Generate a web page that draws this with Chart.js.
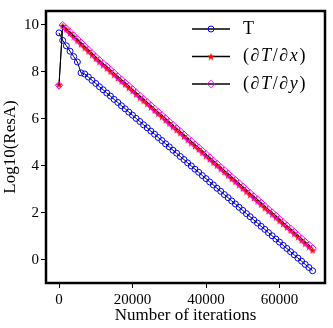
<!DOCTYPE html>
<html>
<head>
<meta charset="utf-8">
<script src="https://cdn.jsdelivr.net/npm/chart.js@4/dist/chart.umd.min.js"></script>
<style>
  html, body { margin: 0; padding: 0; background: #fff; }
  canvas { display: block; }
</style>
</head>
<body>
<canvas id="resChart" width="333" height="328"></canvas>
<script>
// iteration count of each stored residual
const iterations = [
  0, 1000, 2000, 3000, 4000, 5000, 6000, 7000, 8000, 9000,
  10000, 11000, 12000, 13000, 14000, 15000, 16000, 17000, 18000, 19000,
  20000, 21000, 22000, 23000, 24000, 25000, 26000, 27000, 28000, 29000,
  30000, 31000, 32000, 33000, 34000, 35000, 36000, 37000, 38000, 39000,
  40000, 41000, 42000, 43000, 44000, 45000, 46000, 47000, 48000, 49000,
  50000, 51000, 52000, 53000, 54000, 55000, 56000, 57000, 58000, 59000,
  60000, 61000, 62000, 63000, 64000, 65000, 66000, 67000, 68000, 69000
];

// log10 of the residuals
const resT = [
  9.65, 9.33, 9.10, 8.87, 8.64, 8.41, 7.95, 7.90, 7.77, 7.63,
  7.50, 7.36, 7.23, 7.09, 6.96, 6.82, 6.69, 6.55, 6.42, 6.28,
  6.15, 6.01, 5.88, 5.74, 5.61, 5.47, 5.34, 5.20, 5.07, 4.93,
  4.80, 4.66, 4.53, 4.39, 4.26, 4.12, 3.99, 3.85, 3.72, 3.58,
  3.45, 3.31, 3.18, 3.04, 2.91, 2.77, 2.64, 2.50, 2.37, 2.23,
  2.10, 1.96, 1.83, 1.69, 1.56, 1.42, 1.29, 1.15, 1.02, 0.88,
  0.75, 0.61, 0.48, 0.34, 0.21, 0.07, -0.06, -0.20, -0.33, -0.47
];
const resDTdx = [
  7.45, 9.95, 9.80, 9.64, 9.49, 9.32, 9.17, 9.02, 8.87, 8.72,
  8.56, 8.42, 8.28, 8.15, 8.01, 7.87, 7.73, 7.59, 7.46, 7.32,
  7.18, 7.04, 6.90, 6.77, 6.63, 6.49, 6.35, 6.21, 6.08, 5.94,
  5.80, 5.66, 5.52, 5.39, 5.25, 5.11, 4.97, 4.83, 4.70, 4.56,
  4.42, 4.28, 4.14, 4.01, 3.87, 3.73, 3.59, 3.45, 3.32, 3.18,
  3.04, 2.90, 2.76, 2.63, 2.49, 2.35, 2.21, 2.07, 1.94, 1.80,
  1.66, 1.52, 1.38, 1.25, 1.11, 0.97, 0.83, 0.69, 0.55, 0.40
];
const resDTdy = [
  7.42, 9.98, 9.83, 9.68, 9.53, 9.38, 9.23, 9.08, 8.93, 8.78,
  8.63, 8.49, 8.35, 8.22, 8.08, 7.94, 7.80, 7.66, 7.53, 7.39,
  7.25, 7.11, 6.97, 6.84, 6.70, 6.56, 6.42, 6.28, 6.15, 6.01,
  5.87, 5.73, 5.59, 5.46, 5.32, 5.18, 5.04, 4.90, 4.77, 4.63,
  4.49, 4.35, 4.21, 4.08, 3.94, 3.80, 3.66, 3.52, 3.39, 3.25,
  3.11, 2.97, 2.83, 2.70, 2.56, 2.42, 2.28, 2.14, 2.01, 1.87,
  1.73, 1.59, 1.45, 1.32, 1.18, 1.04, 0.90, 0.76, 0.63, 0.49
];

const seriesLabels = ['T', '(∂T/∂x)', '(∂T/∂y)'];
const xTickValues = [0, 20000, 40000, 60000];
const yTickValues = [0, 2, 4, 6, 8, 10];
const xTitle = 'Number of iterations';
const yTitle = 'Log10(ResA)';

const SERIF = '"Liberation Serif", "DejaVu Serif", serif';

// filled five point star, like matplotlib's '*' marker
function makeStar(size, color) {
  const c = document.createElement('canvas');
  c.width = size;
  c.height = size;
  const g = c.getContext('2d');
  const cx = size / 2, cy = size / 2 + 0.4;
  const R = size / 2, r = R * 0.42;
  g.beginPath();
  for (let i = 0; i < 10; i++) {
    const a = -Math.PI / 2 + i * Math.PI / 5;
    const rr = i % 2 === 0 ? R : r;
    g.lineTo(cx + rr * Math.cos(a), cy + rr * Math.sin(a));
  }
  g.closePath();
  g.fillStyle = color;
  g.fill();
  return c;
}
const starImg = makeStar(8, '#ff0000');

const toPoints = vals => iterations.map((it, i) => ({ x: it, y: vals[i] }));

// frame round the plot plus the legend (frameless, top right, with LaTeX-ish labels)
const framePlugin = {
  id: 'framePlugin',
  afterDatasetsDraw(chart) {
    const { ctx, chartArea: a } = chart;
    ctx.save();
    ctx.strokeStyle = '#000';
    ctx.lineWidth = 2.5;
    ctx.strokeRect(a.left, a.top, a.right - a.left, a.bottom - a.top);
    ctx.restore();
  },
  afterDraw(chart) {
    const ctx = chart.ctx;
    const rows = [29, 56.5, 84];
    const x0 = 192, x1 = 230, xm = 211, tx = 243;
    ctx.save();
    seriesLabels.forEach((label, i) => {
      const y = rows[i];
      ctx.strokeStyle = '#000';
      ctx.lineWidth = 1.5;
      ctx.beginPath();
      ctx.moveTo(x0, y);
      ctx.lineTo(x1, y);
      ctx.stroke();
      if (i === 0) {
        ctx.strokeStyle = '#0000ff';
        ctx.lineWidth = 1;
        ctx.beginPath();
        ctx.arc(xm, y, 3, 0, Math.PI * 2);
        ctx.stroke();
      } else if (i === 1) {
        ctx.drawImage(starImg, xm - 4, y - 4);
      } else {
        ctx.strokeStyle = '#ff00ff';
        ctx.lineWidth = 1;
        ctx.beginPath();
        ctx.moveTo(xm, y - 3.8);
        ctx.lineTo(xm + 3.8, y);
        ctx.lineTo(xm, y + 3.8);
        ctx.lineTo(xm - 3.8, y);
        ctx.closePath();
        ctx.stroke();
      }
      // text: letters inside the math label are italic
      ctx.fillStyle = '#000';
      ctx.textBaseline = 'middle';
      let x = tx;
      const math = label.includes('∂');
      for (const ch of label) {
        const ital = math && /[∂A-Za-z]/.test(ch);
        ctx.font = (ital ? 'italic ' : '') + '18px ' + SERIF;
        ctx.fillText(ch, x, y);
        x += ctx.measureText(ch).width + (math ? 1.6 : 0);
      }
    });
    ctx.restore();
  }
};

const ctx = document.getElementById('resChart').getContext('2d');
window.resChart = new Chart(ctx, {
  type: 'line',
  data: {
    datasets: [
      {
        label: seriesLabels[0],
        data: toPoints(resT),
        borderColor: '#000',
        borderWidth: 1,
        pointStyle: 'circle',
        pointRadius: 3,
        pointBorderColor: '#0000ff',
        pointBackgroundColor: 'rgba(0,0,0,0)',
        pointBorderWidth: 1,
        order: 3
      },
      {
        label: seriesLabels[1],
        data: toPoints(resDTdx),
        borderColor: '#000',
        borderWidth: 1,
        pointStyle: starImg,
        pointRadius: 4,
        order: 2
      },
      {
        label: seriesLabels[2],
        data: toPoints(resDTdy),
        borderColor: '#000',
        borderWidth: 1,
        pointStyle: 'rectRot',
        pointRadius: 3.7,
        pointBorderColor: '#ff00ff',
        pointBackgroundColor: 'rgba(0,0,0,0)',
        pointBorderWidth: 1,
        order: 1
      }
    ]
  },
  options: {
    responsive: false,
    animation: false,
    devicePixelRatio: 1,
    layout: { padding: { top: 5, right: 8, left: 0, bottom: 0 } },
    plugins: {
      legend: { display: false },
      tooltip: { enabled: false }
    },
    scales: {
      x: {
        type: 'linear',
        min: -3540,
        max: 72380,
        afterFit: s => { s.height = 45; },
        afterBuildTicks: s => { s.ticks = xTickValues.map(v => ({ value: v })); },
        grid: { drawOnChartArea: false, drawTicks: true, tickLength: 5, tickColor: '#000', tickWidth: 1 },
        border: { display: false },
        ticks: {
          color: '#000',
          padding: 3,
          maxRotation: 0,
          font: { family: SERIF, size: 15 },
          callback: v => String(v)
        },
        title: {
          display: true,
          text: xTitle,
          color: '#000',
          font: { family: SERIF, size: 17 },
          padding: { top: 0, bottom: 2 }
        }
      },
      y: {
        type: 'linear',
        min: -0.99,
        max: 10.58,
        afterFit: s => { s.width = 46; },
        afterBuildTicks: s => { s.ticks = yTickValues.map(v => ({ value: v })); },
        grid: { drawOnChartArea: false, drawTicks: true, tickLength: 5, tickColor: '#000', tickWidth: 1 },
        border: { display: false },
        ticks: {
          color: '#000',
          padding: 2,
          font: { family: SERIF, size: 15 },
          callback: v => String(v)
        },
        title: {
          display: true,
          text: yTitle,
          color: '#000',
          font: { family: SERIF, size: 17 },
          padding: { top: 0, bottom: 0 }
        }
      }
    }
  },
  plugins: [framePlugin]
});
</script>
</body>
</html>
